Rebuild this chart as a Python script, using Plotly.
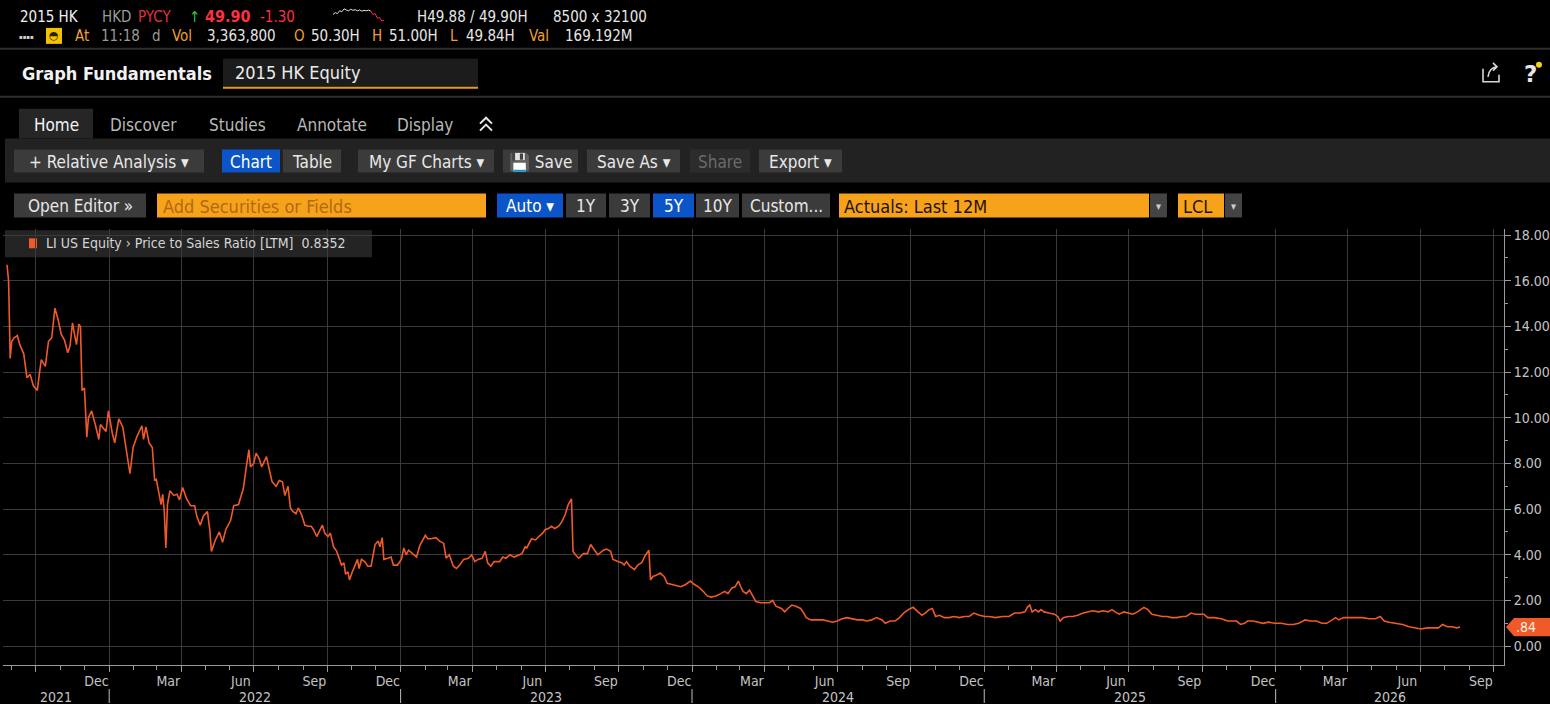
import plotly.graph_objects as go

# LI US Equity - Price to Sales Ratio [LTM]
dates = [
    "2021-08-26", "2021-08-28", "2021-08-30", "2021-09-01", "2021-09-04", "2021-09-08", "2021-09-11", "2021-09-16",
    "2021-09-20", "2021-09-24", "2021-09-28", "2021-10-03", "2021-10-06", "2021-10-08", "2021-10-13", "2021-10-17",
    "2021-10-21", "2021-10-25", "2021-10-29", "2021-11-02", "2021-11-06", "2021-11-10", "2021-11-13", "2021-11-16",
    "2021-11-21", "2021-11-24", "2021-11-26", "2021-11-28", "2021-12-01", "2021-12-04", "2021-12-06", "2021-12-10",
    "2021-12-15", "2021-12-19", "2021-12-21", "2021-12-28", "2021-12-31", "2022-01-05", "2022-01-08", "2022-01-13",
    "2022-01-18", "2022-01-24", "2022-01-27", "2022-01-31", "2022-02-05", "2022-02-11", "2022-02-13", "2022-02-16",
    "2022-02-20", "2022-02-24", "2022-02-27", "2022-03-01", "2022-03-04", "2022-03-07", "2022-03-09", "2022-03-11",
    "2022-03-13", "2022-03-15", "2022-03-18", "2022-03-23", "2022-03-27", "2022-03-30", "2022-04-03", "2022-04-08",
    "2022-04-13", "2022-04-18", "2022-04-21", "2022-04-25", "2022-04-29", "2022-05-04", "2022-05-07", "2022-05-09",
    "2022-05-14", "2022-05-19", "2022-05-23", "2022-05-27", "2022-06-02", "2022-06-06", "2022-06-12", "2022-06-18",
    "2022-06-22", "2022-06-25", "2022-06-27", "2022-07-01", "2022-07-04", "2022-07-08", "2022-07-11", "2022-07-17",
    "2022-07-21", "2022-07-24", "2022-07-29", "2022-08-02", "2022-08-06", "2022-08-09", "2022-08-13", "2022-08-16",
    "2022-08-19", "2022-08-23", "2022-08-26", "2022-08-30", "2022-09-03", "2022-09-07", "2022-09-11", "2022-09-14",
    "2022-09-18", "2022-09-22", "2022-09-25", "2022-09-28", "2022-10-02", "2022-10-05", "2022-10-09", "2022-10-13",
    "2022-10-16", "2022-10-19", "2022-10-22", "2022-10-24", "2022-10-27", "2022-10-29", "2022-11-01", "2022-11-05",
    "2022-11-08", "2022-11-10", "2022-11-13", "2022-11-17", "2022-11-21", "2022-11-25", "2022-11-30", "2022-12-04",
    "2022-12-06", "2022-12-09", "2022-12-11", "2022-12-16", "2022-12-20", "2022-12-23", "2022-12-28", "2023-01-02",
    "2023-01-05", "2023-01-08", "2023-01-11", "2023-01-16", "2023-01-21", "2023-01-25", "2023-01-29", "2023-02-01",
    "2023-02-04", "2023-02-08", "2023-02-14", "2023-02-19", "2023-02-24", "2023-02-27", "2023-03-03", "2023-03-08",
    "2023-03-12", "2023-03-16", "2023-03-21", "2023-03-27", "2023-03-31", "2023-04-04", "2023-04-08", "2023-04-13",
    "2023-04-17", "2023-04-20", "2023-04-24", "2023-04-28", "2023-05-05", "2023-05-09", "2023-05-13", "2023-05-18",
    "2023-05-23", "2023-05-29", "2023-06-02", "2023-06-06", "2023-06-08", "2023-06-14", "2023-06-19", "2023-06-23",
    "2023-06-28", "2023-07-01", "2023-07-05", "2023-07-09", "2023-07-13", "2023-07-18", "2023-07-22", "2023-07-26",
    "2023-07-30", "2023-08-03", "2023-08-05", "2023-08-08", "2023-08-12", "2023-08-18", "2023-08-23", "2023-08-27",
    "2023-09-01", "2023-09-05", "2023-09-12", "2023-09-16", "2023-09-21", "2023-09-24", "2023-10-01", "2023-10-05",
    "2023-10-08", "2023-10-11", "2023-10-15", "2023-10-21", "2023-10-25", "2023-10-30", "2023-11-03", "2023-11-08",
    "2023-11-10", "2023-11-13", "2023-11-17", "2023-11-22", "2023-11-27", "2023-12-01", "2023-12-07", "2023-12-13",
    "2023-12-18", "2023-12-24", "2023-12-30", "2024-01-04", "2024-01-09", "2024-01-15", "2024-01-20", "2024-01-25",
    "2024-01-31", "2024-02-06", "2024-02-11", "2024-02-15", "2024-02-20", "2024-02-24", "2024-02-28", "2024-03-02",
    "2024-03-05", "2024-03-09", "2024-03-13", "2024-03-17", "2024-03-21", "2024-03-27", "2024-04-01", "2024-04-07",
    "2024-04-11", "2024-04-15", "2024-04-22", "2024-04-26", "2024-04-30", "2024-05-05", "2024-05-10", "2024-05-16",
    "2024-05-20", "2024-05-23", "2024-05-29", "2024-06-06", "2024-06-13", "2024-06-19", "2024-06-25", "2024-07-01",
    "2024-07-07", "2024-07-13", "2024-07-20", "2024-07-26", "2024-08-01", "2024-08-07", "2024-08-13", "2024-08-19",
    "2024-08-26", "2024-08-30", "2024-09-05", "2024-09-11", "2024-09-17", "2024-09-22", "2024-09-28", "2024-10-04",
    "2024-10-10", "2024-10-15", "2024-10-19", "2024-10-24", "2024-10-28", "2024-11-01", "2024-11-06", "2024-11-12",
    "2024-11-18", "2024-11-24", "2024-12-01", "2024-12-07", "2024-12-13", "2024-12-19", "2024-12-26", "2025-01-02",
    "2025-01-07", "2025-01-15", "2025-01-24", "2025-02-01", "2025-02-08", "2025-02-15", "2025-02-21", "2025-02-24",
    "2025-02-27", "2025-03-02", "2025-03-06", "2025-03-10", "2025-03-13", "2025-03-17", "2025-03-23", "2025-03-30",
    "2025-04-03", "2025-04-06", "2025-04-10", "2025-04-16", "2025-04-22", "2025-04-28", "2025-05-05", "2025-05-11",
    "2025-05-17", "2025-05-24", "2025-05-30", "2025-06-05", "2025-06-10", "2025-06-14", "2025-06-19", "2025-06-25",
    "2025-07-01", "2025-07-06", "2025-07-12", "2025-07-17", "2025-07-20", "2025-07-25", "2025-07-30", "2025-08-05",
    "2025-08-12", "2025-08-18", "2025-08-24", "2025-08-30", "2025-09-06", "2025-09-11", "2025-09-17", "2025-09-22",
    "2025-09-28", "2025-10-03", "2025-10-08", "2025-10-16", "2025-10-25", "2025-11-02", "2025-11-13", "2025-11-18",
    "2025-11-23", "2025-11-27", "2025-12-04", "2025-12-10", "2025-12-16", "2025-12-23", "2025-12-31", "2026-01-08",
    "2026-01-16", "2026-01-23", "2026-01-30", "2026-02-07", "2026-02-13", "2026-02-21", "2026-02-28", "2026-03-06",
    "2026-03-12", "2026-03-17", "2026-03-21", "2026-03-27", "2026-04-03", "2026-04-11", "2026-04-20", "2026-04-28",
    "2026-05-06", "2026-05-12", "2026-05-17", "2026-05-23", "2026-06-01", "2026-06-09", "2026-06-17", "2026-06-25",
    "2026-07-02", "2026-07-10", "2026-07-16", "2026-07-24", "2026-07-29", "2026-08-04", "2026-08-10", "2026-08-16",
    "2026-08-20",
]
ps_ratio = [
    16.7, 16.0, 12.6, 13.35, 13.5, 13.6, 13.2, 12.8,
    11.75, 11.9, 11.4, 11.2, 12.05, 12.55, 12.25, 13.35,
    13.5, 14.8, 14.3, 13.65, 13.4, 12.85, 13.15, 14.15,
    13.2, 14.1, 14.0, 11.2, 11.3, 9.15, 10.0, 10.3,
    9.65, 9.05, 9.7, 9.4, 10.3, 9.3, 8.9, 9.95,
    9.6, 8.1, 7.55, 8.7, 9.2, 9.65, 9.05, 9.6,
    8.9, 8.7, 7.25, 7.3, 6.65, 6.2, 6.65, 5.9,
    4.3, 6.2, 6.8, 6.6, 6.65, 6.4, 6.95, 6.45,
    6.15, 6.15, 5.65, 5.3, 5.7, 5.9, 5.1, 4.15,
    4.65, 5.0, 4.55, 5.1, 5.5, 6.15, 6.2, 6.9,
    7.9, 8.6, 7.85, 8.0, 8.45, 8.2, 7.85, 8.3,
    7.65, 7.2, 7.0, 7.25, 7.2, 6.6, 7.0, 6.05,
    5.9, 5.8, 6.05, 5.75, 5.3, 5.25, 5.25, 5.1,
    4.8, 5.1, 5.3, 4.95, 4.8, 4.95, 4.35, 4.15,
    3.85, 3.55, 3.65, 3.15, 3.25, 2.9, 3.2, 3.55,
    3.8, 3.4, 3.8, 3.7, 3.5, 3.5, 4.45, 4.6,
    4.35, 4.75, 3.8, 3.85, 3.9, 3.55, 3.55, 3.8,
    4.3, 4.0, 4.2, 4.05, 3.9, 4.4, 4.65, 4.85,
    4.7, 4.7, 4.75, 4.6, 4.5, 3.85, 4.0, 3.5,
    3.4, 3.55, 3.8, 3.85, 4.0, 3.7, 3.8, 3.85,
    4.15, 3.65, 3.5, 3.7, 3.7, 3.9, 3.85, 4.0,
    3.9, 4.0, 4.05, 4.35, 4.3, 4.7, 4.65, 4.8,
    4.95, 5.1, 5.15, 5.25, 5.15, 5.25, 5.45, 5.75,
    6.2, 6.45, 4.15, 4.0, 3.85, 4.05, 4.05, 4.45,
    4.2, 4.0, 4.2, 4.25, 4.15, 3.8, 3.7, 3.65,
    3.55, 3.7, 3.5, 3.35, 3.55, 3.65, 3.95, 4.2,
    2.9, 3.05, 3.1, 3.2, 3.05, 2.75, 2.7, 2.65,
    2.6, 2.7, 2.85, 2.7, 2.6, 2.4, 2.2, 2.15,
    2.2, 2.3, 2.4, 2.3, 2.55, 2.6, 2.85, 2.6,
    2.4, 2.3, 2.45, 2.2, 1.95, 1.9, 1.9, 1.9,
    2.0, 1.75, 1.65, 1.5, 1.65, 1.8, 1.75, 1.65,
    1.45, 1.25, 1.15, 1.15, 1.15, 1.1, 1.05, 1.1,
    1.2, 1.25, 1.2, 1.15, 1.15, 1.1, 1.15, 1.25,
    1.15, 1.0, 1.1, 1.1, 1.25, 1.45, 1.6, 1.7,
    1.5, 1.35, 1.45, 1.6, 1.65, 1.3, 1.35, 1.25,
    1.25, 1.3, 1.25, 1.3, 1.3, 1.45, 1.35, 1.3,
    1.3, 1.25, 1.3, 1.3, 1.45, 1.45, 1.5, 1.7,
    1.8, 1.5, 1.6, 1.5, 1.6, 1.5, 1.45, 1.4,
    1.3, 1.1, 1.25, 1.3, 1.3, 1.35, 1.45, 1.5,
    1.55, 1.5, 1.55, 1.5, 1.6, 1.5, 1.4, 1.5,
    1.45, 1.4, 1.5, 1.65, 1.7, 1.6, 1.4, 1.35,
    1.3, 1.3, 1.25, 1.25, 1.3, 1.3, 1.45, 1.4,
    1.4, 1.4, 1.25, 1.25, 1.2, 1.1, 1.1, 0.95,
    1.0, 1.1, 1.1, 1.05, 1.0, 1.05, 1.0, 1.0,
    0.95, 0.95, 1.0, 1.15, 1.1, 1.1, 1.0, 1.0,
    1.15, 1.25, 1.15, 1.25, 1.25, 1.25, 1.25, 1.2,
    1.2, 1.3, 1.1, 1.05, 1.0, 0.95, 0.85, 0.8,
    0.75, 0.8, 0.8, 0.8, 0.95, 0.85, 0.85, 0.8,
    0.8352,
]

# axis text
quarter_starts = ["2021-10-01", "2022-01-01", "2022-04-01", "2022-07-01", "2022-10-01", "2023-01-01",
                  "2023-04-01", "2023-07-01", "2023-10-01", "2024-01-01", "2024-04-01", "2024-07-01",
                  "2024-10-01", "2025-01-01", "2025-04-01", "2025-07-01", "2025-10-01", "2026-01-01",
                  "2026-04-01", "2026-07-01", "2026-10-01"]
month_mid = ["2021-12-16", "2022-03-16", "2022-06-15", "2022-09-15", "2022-12-16", "2023-03-16",
             "2023-06-15", "2023-09-15", "2023-12-16", "2024-03-16", "2024-06-15", "2024-09-15",
             "2024-12-16", "2025-03-16", "2025-06-15", "2025-09-15", "2025-12-16", "2026-03-16",
             "2026-06-15", "2026-09-15"]
month_names = ["Dec", "Mar", "Jun", "Sep"] * 5
years = ["2021", "2022", "2023", "2024", "2025", "2026"]
year_centres = ["2021-10-26", "2022-07-02", "2023-07-02", "2024-07-02", "2025-07-02", "2026-05-24"]
year_breaks = ["2022-01-01", "2023-01-01", "2024-01-01", "2025-01-01", "2026-01-01"]

# little intraday sparkline in the quote header
spark_day = [5, 6, 5.5, 7, 6.5, 8, 7.4, 7, 7.8, 7.2, 7.6, 7, 7.4, 6.8, 7.2, 7, 7.3, 6.9]
spark_drop = [6.9, 5, 5.5, 3, 3.5, 1.5, 2]

W, H = 1550, 704
UI = "Liberation Sans Narrow, DejaVu Sans Condensed, Arial Narrow, sans-serif"
ORANGE = "#f05a28"
AMBER = "#f7a21b"
BTN = "#3b3b3b"
BLUE = "#0b55c8"


def fx(p):
    return p / W


def fy(p):
    return 1 - p / H


shapes = []
annos = []


def rect(x0, y0, x1, y1, fill, line=None):
    shapes.append(dict(type="rect", xref="paper", yref="paper", x0=fx(x0), x1=fx(x1), y0=fy(y1), y1=fy(y0),
                       fillcolor=fill, line=dict(width=1 if line else 0, color=line or fill), layer="below"))


def hline(x0, x1, y, color, w=1):
    shapes.append(dict(type="line", xref="paper", yref="paper", x0=fx(x0), x1=fx(x1), y0=fy(y), y1=fy(y),
                       line=dict(color=color, width=w)))


def text(x, y, s, color="#e6e6e6", size=15, anchor="left", family=UI):
    annos.append(dict(xref="paper", yref="paper", x=fx(x), y=fy(y), text=s, showarrow=False,
                      xanchor=anchor, yanchor="middle", font=dict(color=color, size=size, family=family)))


def button(x0, x1, y0, y1, label, fill=BTN, color="#e8e8e8", size=17):
    rect(x0, y0, x1, y1, fill)
    text((x0 + x1) / 2, (y0 + y1) / 2 + 1, label, color, size, "center")


# quote header
text(18, 15, "2015 HK", "#f0f0f0", 15)
text(100, 15, "HKD", "#9a9a9a", 15)
text(136, 15, "PYCY", "#e0323c", 15)
text(187, 15, "↑", "#3cc24a", 15)
text(203, 15, "<b>49.90</b>", "#ff3040", 16)
text(258, 15, "-1.30", "#ff3040", 15)
text(415, 15, "H49.88 / 49.90H", "#e6e6e6", 15)
text(551, 15, "8500 x 32100", "#e6e6e6", 15)
text(17, 35, "▪▪▪▪", "#cfcfcf", 6)
rect(46, 26, 62, 42, "#f3c300")
text(54, 34, "◓", "#2a1e00", 11, "center", "DejaVu Sans")
for x, s, c in [(73, "At", "#f0a030"), (99, "11:18", "#9a9a9a"), (150, "d", "#9a9a9a"),
                (170, "Vol", "#f0a030"), (205, "3,363,800", "#e6e6e6"), (292, "O", "#f0a030"),
                (309, "50.30H", "#e6e6e6"), (370, "H", "#f0a030"), (387, "51.00H", "#e6e6e6"),
                (448, "L", "#f0a030"), (464, "49.84H", "#e6e6e6"), (527, "Val", "#f0a030"),
                (563, "169.192M", "#e6e6e6")]:
    text(x, 34, s, c, 15)
hline(0, W, 47, "#2e2e2e", 2)

# title row
text(20, 72, "<b>Graph Fundamentals</b>", "#f2f2f2", 18)
rect(223, 57, 478, 85, "#1c1c1c")
hline(223, 478, 86, "#e89a2c", 2)
text(233, 71, "2015 HK Equity", "#ececec", 18)
text(1530, 72, "<b>?</b>", "#e6e6e6", 23, "center", "DejaVu Sans")
shapes.append(dict(type="circle", xref="paper", yref="paper", x0=fx(1536), x1=fx(1542), y0=fy(66), y1=fy(60),
                   fillcolor="#f3d21b", line=dict(width=0)))
shapes.append(dict(type="path", xref="paper", yref="paper", line=dict(color="#d8d8d8", width=1.6),
                   path=f"M {fx(1483)} {fy(67)} L {fx(1483)} {fy(80)} L {fx(1499)} {fy(80)} L {fx(1499)} {fy(73)} "
                        f"M {fx(1488)} {fy(75)} Q {fx(1489)} {fy(66)} {fx(1497)} {fy(65)} "
                        f"M {fx(1493)} {fy(61)} L {fx(1497)} {fy(65)} L {fx(1493)} {fy(69)}"))
hline(0, W, 95, "#2e2e2e", 2)

# tabs
rect(19, 107, 93, 137, "#262626")
text(56, 123, "Home", "#f4f4f4", 17, "center")
for x, s in [(108, "Discover"), (207, "Studies"), (295, "Annotate"), (395, "Display")]:
    text(x, 123, s, "#b8b8b8", 17)
shapes.append(dict(type="path", xref="paper", yref="paper", line=dict(color="#e6e6e6", width=2),
                   path=f"M {fx(480)} {fy(122)} L {fx(486)} {fy(116)} L {fx(492)} {fy(122)} "
                        f"M {fx(480)} {fy(129)} L {fx(486)} {fy(123)} L {fx(492)} {fy(129)}"))

# toolbar band
rect(5, 137, W, 181, "#222222")
button(14, 204, 148, 171, "+ Relative Analysis ▾")
button(222, 280, 148, 171, "Chart", BLUE, "#ffffff")
button(283, 341, 148, 171, "Table")
button(358, 494, 148, 171, "My GF Charts ▾")
button(503, 578, 148, 171, "💾 Save")
button(587, 680, 148, 171, "Save As ▾")
button(690, 750, 148, 171, "Share", "#2c2c2c", "#6a6a6a")
button(759, 842, 148, 171, "Export ▾")

# security / period row
button(14, 146, 192, 216, "Open Editor »")
rect(157, 192, 486, 216, AMBER)
text(161, 205, "Add Securities or Fields", "#b06a10", 18)
button(497, 563, 192, 216, "Auto ▾", BLUE, "#ffffff")
button(566, 606, 192, 216, "1Y")
button(609, 650, 192, 216, "3Y")
button(653, 694, 192, 216, "5Y", BLUE, "#ffffff")
button(696, 739, 192, 216, "10Y")
button(742, 830, 192, 216, "Custom...")
rect(839, 192, 1149, 216, AMBER)
text(842, 205, "Actuals: Last 12M", "#1e1408", 18)
button(1150, 1167, 192, 216, "▾", "#444444", "#cfcfcf", 11)
rect(1178, 192, 1224, 216, AMBER)
text(1181, 205, "LCL", "#1e1408", 18)
button(1225, 1242, 192, 216, "▾", "#444444", "#cfcfcf", 11)

# legend box
rect(5, 229, 372, 256, "#242424")
rect(29, 237, 37, 247, ORANGE)
text(44, 242, f"LI US Equity › Price to Sales Ratio [LTM]  {ps_ratio[-1]:.4f}", "#d4d4d4", 14)

# year row under the month labels
for yr, mid in zip(years, year_centres):
    annos.append(dict(xref="x", yref="paper", x=mid, y=fy(697), text=yr, showarrow=False,
                      xanchor="center", yanchor="middle", font=dict(color="#c4c4c4", size=14, family=UI)))
for d in year_breaks:
    shapes.append(dict(type="line", xref="x", yref="paper", x0=d, x1=d, y0=fy(689), y1=fy(703),
                       line=dict(color="#bdbdbd", width=1)))

# last value tag on the right axis
last = ps_ratio[-1]
h = 0.4
shapes.append(dict(type="path", xref="paper", yref="y", fillcolor=ORANGE, line=dict(width=0),
                   path=f"M {fx(1506)} {last} L {fx(1514)} {last + h} L {fx(1550)} {last + h} "
                        f"L {fx(1550)} {last - h} L {fx(1514)} {last - h} Z"))
annos.append(dict(xref="paper", yref="y", x=fx(1514), y=last, text=f"{last:.2f}".lstrip("0"), showarrow=False,
                  xanchor="left", yanchor="middle", font=dict(color="#fff1e6", size=14, family=UI)))

fig = go.Figure()
fig.add_trace(go.Scatter(x=dates, y=ps_ratio, mode="lines", line=dict(color=ORANGE, width=1.6),
                         name="LI US Equity › Price to Sales Ratio [LTM]", showlegend=False))
# invisible trace so the month-label axis is drawn
fig.add_trace(go.Scatter(x=[dates[0]], y=[ps_ratio[0]], xaxis="x2", mode="markers",
                         marker=dict(opacity=0), showlegend=False, hoverinfo="skip"))
fig.add_trace(go.Scatter(y=spark_day, x=list(range(len(spark_day))), xaxis="x3", yaxis="y3", mode="lines",
                         line=dict(color="#e0e0e0", width=1), showlegend=False, hoverinfo="skip"))
fig.add_trace(go.Scatter(y=spark_drop, x=list(range(len(spark_day) - 1, len(spark_day) - 1 + len(spark_drop))),
                         xaxis="x3", yaxis="y3", mode="lines", line=dict(color="#ff3040", width=1),
                         showlegend=False, hoverinfo="skip"))

xr = ["2021-08-21", "2026-10-14"]
dom_x = [fx(3), fx(1504)]
fig.update_layout(
    width=W, height=H, autosize=False,
    margin=dict(l=0, r=0, t=0, b=0),
    paper_bgcolor="#000000", plot_bgcolor="#000000",
    font=dict(family=UI, color="#c8c8c8"),
    shapes=shapes, annotations=annos,
    xaxis=dict(type="date", range=xr, domain=dom_x, anchor="y",
               tickmode="array", tickvals=quarter_starts, showticklabels=False,
               ticks="outside", ticklen=6, tickcolor="#9a9a9a",
               showgrid=True, gridcolor="#3a3a3a", gridwidth=1,
               showline=True, linecolor="#9a9a9a", linewidth=1, zeroline=False,
               minor=dict(dtick="M1", tick0="2021-09-01", ticks="outside", ticklen=4, tickcolor="#9a9a9a",
                          showgrid=False)),
    xaxis2=dict(type="date", range=xr, overlaying="x", anchor="y", side="bottom",
                tickmode="array", tickvals=month_mid, ticktext=month_names, ticklabelstandoff=6,
                showgrid=False, showline=False, ticks="", zeroline=False,
                tickfont=dict(size=14, color="#c4c4c4", family=UI)),
    yaxis=dict(range=[-0.83, 18.25], domain=[fy(665), fy(228)], side="right", anchor="x",
               tick0=0, dtick=2, tickformat=".2f", ticks="outside", ticklen=6, tickcolor="#9a9a9a",
               showgrid=True, gridcolor="#3a3a3a", gridwidth=1,
               showline=True, linecolor="#9a9a9a", linewidth=1, zeroline=False,
               tickfont=dict(size=14, color="#c4c4c4", family=UI),
               minor=dict(dtick=1, ticks="outside", ticklen=3, tickcolor="#9a9a9a", showgrid=False)),
    xaxis3=dict(domain=[fx(333), fx(384)], anchor="y3", visible=False, fixedrange=True),
    yaxis3=dict(domain=[fy(22), fy(5)], anchor="x3", visible=False, range=[0, 9], fixedrange=True),
    hovermode="x",
)

# page body: no default margin so the 1550x704 figure fills the window
fig.write_html("out.html", config={"displayModeBar": False},
               post_script="document.body.style.margin='0';"
                           "document.body.style.background='#000';"
                           "document.body.style.overflow='hidden';")
